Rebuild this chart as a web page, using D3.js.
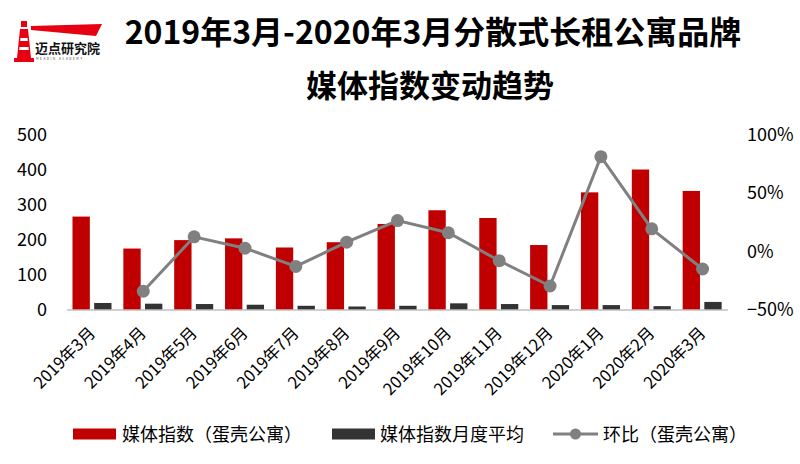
<!DOCTYPE html>
<html>
<head>
<meta charset="utf-8">
<script src="https://cdn.jsdelivr.net/npm/d3@7"></script>
<style>
  body { margin: 0; background: #fff; }
  text { font-family: "Noto Sans CJK SC", "Noto Sans", sans-serif; }
</style>
</head>
<body>
<svg id="chart" width="800" height="464"></svg>
<script>
(function(){

	var months = ["2019年3月","2019年4月","2019年5月","2019年6月","2019年7月","2019年8月","2019年9月",
		"2019年10月","2019年11月","2019年12月","2020年1月","2020年2月","2020年3月"];
	var mediaIndex = [266, 175, 199, 204, 178, 193, 245, 284, 262, 185, 335, 400, 339];
	var monthAvg = [20, 18, 17, 15, 12, 10, 12, 19, 17, 14, 14, 11, 23];
	var momChange = [null, -0.34, 0.125, 0.028, -0.128, 0.079, 0.264, 0.16, -0.079, -0.295, 0.81, 0.193, -0.15];
	var leftTicks = [0, 100, 200, 300, 400, 500];
	var rightTicks = [-0.5, 0, 0.5, 1];
	var seriesNames = ["媒体指数（蛋壳公寓）", "媒体指数月度平均", "环比（蛋壳公寓）"];

	var red = "#c00000", dark = "#333333", grey = "#808080";

	var svg = d3.select("#chart");

	drawLogo();
	drawTitle();

	var x0 = d3.scaleBand().domain(months).range([67, 728]).padding(0);
	var x1 = d3.scaleBand().domain(["idx", "avg"]).range([5.5, 44.5]).paddingInner(0.2);
	var yL = d3.scaleLinear().domain([0, 500]).range([310, 134.4]);
	var yR = d3.scaleLinear().domain([-0.5, 1]).range([310, 134.4]);

	// bars
	var groups = svg.append("g").selectAll("g").data(months).enter().append("g")
		.attr("transform", function(d) { return "translate(" + x0(d) + ",0)"; });

	groups.append("rect")
		.attr("x", x1("idx"))
		.attr("width", x1.bandwidth())
		.attr("y", function(d, i) { return yL(mediaIndex[i]); })
		.attr("height", function(d, i) { return yL(0) - yL(mediaIndex[i]); })
		.attr("fill", red);

	groups.append("rect")
		.attr("x", x1("avg"))
		.attr("width", x1.bandwidth())
		.attr("y", function(d, i) { return yL(monthAvg[i]); })
		.attr("height", function(d, i) { return yL(0) - yL(monthAvg[i]); })
		.attr("fill", dark);

	// baseline
	svg.append("line")
		.attr("x1", 67).attr("x2", 728)
		.attr("y1", yL(0)).attr("y2", yL(0))
		.attr("stroke", "#bfbfbf").attr("stroke-width", 1.5);

	// left axis
	var axL = svg.append("g").attr("transform", "translate(47,0)")
		.call(d3.axisLeft(yL).tickValues(leftTicks).tickSize(0).tickPadding(0));
	axL.select(".domain").remove();
	axL.selectAll("text").attr("font-size", 18).attr("fill", "#000")
		.style("font-family", "'Noto Sans CJK SC', sans-serif");

	// right axis
	var axR = svg.append("g").attr("transform", "translate(747,0)")
		.call(d3.axisRight(yR).tickValues(rightTicks).tickSize(0).tickPadding(0).tickFormat(d3.format(".0%")));
	axR.select(".domain").remove();
	axR.selectAll("text").attr("font-size", 18).attr("fill", "#000")
		.style("font-family", "'Noto Sans CJK SC', sans-serif");

	// x labels
	svg.append("g").selectAll("text").data(months).enter().append("text")
		.attr("transform", function(d) {
			var cx = x0(d) + x0.bandwidth() / 2 + 4;
			return "translate(" + cx + ",334) rotate(-45)";
		})
		.attr("text-anchor", "end")
		.attr("font-size", 16.5)
		.attr("fill", "#000")
		.text(function(d) { return d; });

	// line
	var pts = months.map(function(m, i) { return { m: m, v: momChange[i] }; })
		.filter(function(p) { return p.v !== null; });

	var line = d3.line()
		.x(function(p) { return x0(p.m) + x0.bandwidth() / 2; })
		.y(function(p) { return yR(p.v); });

	svg.append("path").datum(pts)
		.attr("d", line)
		.attr("fill", "none")
		.attr("stroke", grey)
		.attr("stroke-width", 3);

	svg.append("g").selectAll("circle").data(pts).enter().append("circle")
		.attr("cx", function(p) { return x0(p.m) + x0.bandwidth() / 2; })
		.attr("cy", function(p) { return yR(p.v); })
		.attr("r", 6.5)
		.attr("fill", grey);

	drawLegend();

	function drawTitle(){
		svg.append("text").attr("x", 433).attr("y", 44)
			.attr("text-anchor", "middle").attr("font-size", 32).attr("font-weight", "bold")
			.attr("fill", "#000").text("2019年3月-2020年3月分散式长租公寓品牌");
		svg.append("text").attr("x", 430).attr("y", 97)
			.attr("text-anchor", "middle").attr("font-size", 31).attr("font-weight", "bold")
			.attr("fill", "#000").text("媒体指数变动趋势");
	}

	function drawLegend(){
		var ly = 434;
		var lg = svg.append("g").attr("font-size", 18).attr("fill", "#000");

		lg.append("rect").attr("x", 73).attr("y", ly - 5.5).attr("width", 43).attr("height", 11).attr("fill", red);
		lg.append("text").attr("x", 122).attr("y", ly + 6.5).text(seriesNames[0]);

		lg.append("rect").attr("x", 332).attr("y", ly - 5.5).attr("width", 43).attr("height", 11).attr("fill", dark);
		lg.append("text").attr("x", 380).attr("y", ly + 6.5).text(seriesNames[1]);

		lg.append("line").attr("x1", 553).attr("x2", 598).attr("y1", ly).attr("y2", ly)
			.attr("stroke", grey).attr("stroke-width", 3);
		lg.append("circle").attr("cx", 575.5).attr("cy", ly).attr("r", 5.5).attr("fill", grey);
		lg.append("text").attr("x", 603).attr("y", ly + 6.5).text(seriesNames[2]);
	}

	function drawLogo(){
		var g = svg.append("g");
		// lighthouse
		g.append("path").attr("d", "M21,21 L27,21 L27,27 L21,27 Z").attr("fill", "#e60012");
		g.append("path").attr("d", "M20,29 L28,29 L31,58 L17,58 Z").attr("fill", "#e60012");
		g.append("path").attr("d", "M14,58 L34,58 L34,62 L14,62 Z").attr("fill", "#e60012");
		g.append("path").attr("d", "M20.5,38 L27.5,38 L27.8,41 L20.2,41 Z").attr("fill", "#fff");
		g.append("path").attr("d", "M19.5,47 L28.5,47 L28.8,50 L19.2,50 Z").attr("fill", "#fff");
		// beam
		g.append("path").attr("d", "M31,26 L102,24 L96,36 L31,30 Z").attr("fill", "#e60012");
		g.append("text").attr("x", 35).attr("y", 53).attr("font-size", 13).attr("font-weight", "bold")
			.attr("fill", "#111").text("迈点研究院");
		g.append("text").attr("x", 36).attr("y", 60).attr("font-size", 3)
			.attr("fill", "#333").attr("letter-spacing", 1.6).text("MEADIN ACADEMY");
	}

})();
</script>
</body>
</html>
